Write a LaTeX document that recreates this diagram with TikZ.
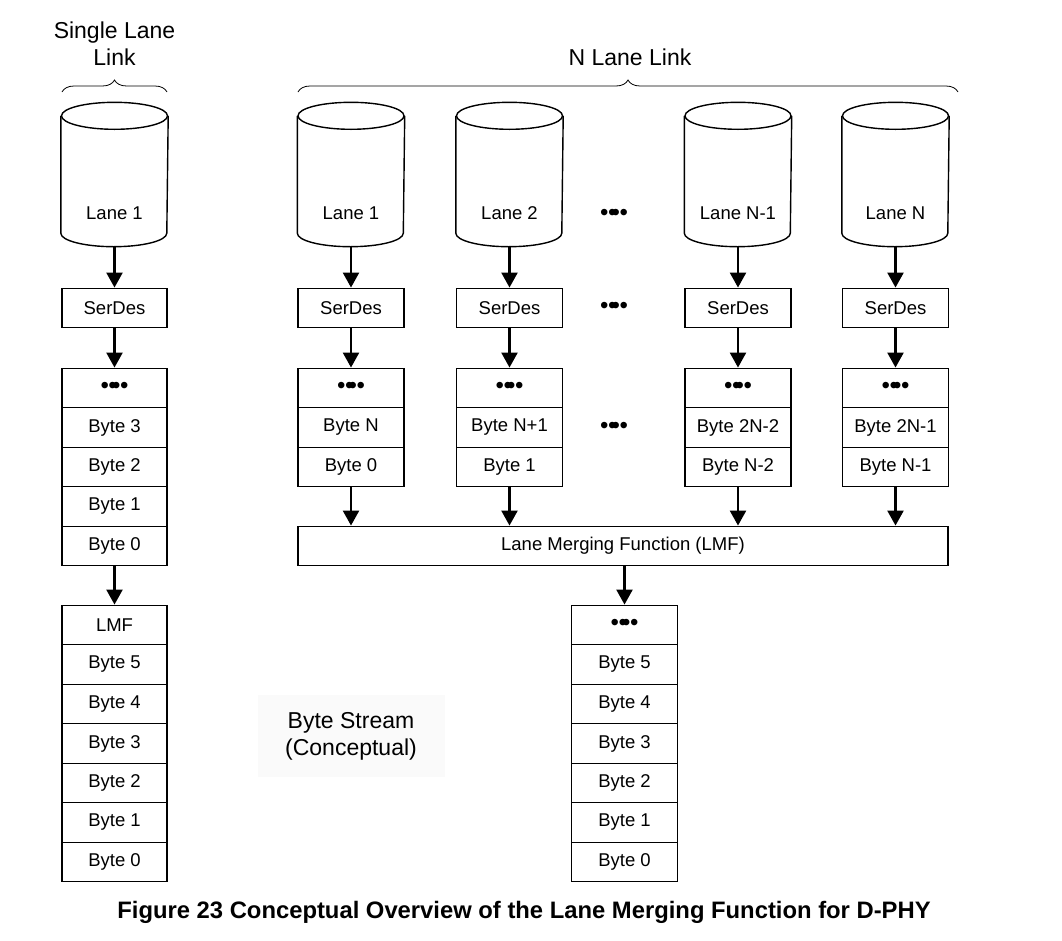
\documentclass[tikz,border=0pt]{standalone}
\usepackage{fontspec}
\setmainfont{Liberation Sans}
\usetikzlibrary{arrows.meta,decorations.pathreplacing}
\newcommand{\dotrow}{{\fontsize{24}{24}\selectfont •\kern-.02em•\kern-.2em•\kern-.02em•}}

\begin{document}
\begin{tikzpicture}[x=1pt,y=-1pt,>={Triangle[length=15pt,width=16pt]},line width=1.4pt,font=\fontsize{18.5}{20}\selectfont]
\tikzstyle{cyl}=[rectangle,minimum width=106,minimum height=143,inner sep=0]
\tikzstyle{box}=[rectangle,draw,minimum width=106,minimum height=39.5,inner sep=0]
\tikzstyle{conn}=[->,line width=2.4pt]
\tikzstyle{head}=[font=\fontsize{23}{27}\selectfont,align=center]
\tikzstyle{lbl}=[yshift=-40.5pt,text height=13pt,text depth=4pt]
\tikzstyle{brc}=[decorate,decoration={brace,amplitude=12pt},line width=.8pt]
\useasboundingbox (0,0) rectangle (1062,940);
% headings
\node(single)at(114.5,44)[head]{Single Lane\\Link};
\node(nlane)at(630,57)[head]{N Lane Link};
\draw[brc](62,92)--(167,92);
\draw[brc](298,92)--(958,92);
% single lane link
\node(cylS)at(114.5,174.5)[cyl,label={[lbl]center:Lane 1}]{};
\node(serS)at(114.5,308)[box,minimum width=105]{SerDes};
\node(sDots)at(114.5,388)[box,minimum width=105]{\dotrow};
\node(sB3)at(114.5,427.5)[box,minimum width=105]{Byte 3};
\node(sB2)at(114.5,467)[box,minimum width=105]{Byte 2};
\node(sB1)at(114.5,506.5)[box,minimum width=105]{Byte 1};
\node(sB0)at(114.5,546)[box,minimum width=105]{Byte 0};
\node(mLMF)at(114.5,625)[box,minimum width=105]{LMF};
\node(mB5)at(114.5,664.5)[box,minimum width=105]{Byte 5};
\node(mB4)at(114.5,704)[box,minimum width=105]{Byte 4};
\node(mB3)at(114.5,743.5)[box,minimum width=105]{Byte 3};
\node(mB2)at(114.5,783)[box,minimum width=105]{Byte 2};
\node(mB1)at(114.5,822.5)[box,minimum width=105]{Byte 1};
\node(mB0)at(114.5,862)[box,minimum width=105]{Byte 0};
\draw[conn](cylS)--(serS);
\draw[conn](serS)--(sDots);
\draw[conn](sB0)--(mLMF);
% n lane link
\node(cylA)at(351,174.5)[cyl,label={[lbl]center:Lane 1}]{};
\node(cylB)at(509.5,174.5)[cyl,label={[lbl]center:Lane 2}]{};
\node(cylC)at(738,174.5)[cyl,label={[lbl]center:Lane N-1}]{};
\node(cylD)at(895.5,174.5)[cyl,label={[lbl]center:Lane N}]{};
\foreach \c in {cylS,cylA,cylB,cylC,cylD}{
  \draw([yshift=-13.5pt]\c.north west)--([yshift=13.5pt]\c.south west)
    arc[start angle=180,end angle=360,x radius=53pt,y radius=13.5pt]
    --([yshift=-13.5pt]\c.north east);
  \draw([yshift=-13.5pt]\c.north) ellipse[x radius=53pt,y radius=13.5pt];
}
\node(serA)at(351,308)[box]{SerDes};
\node(serB)at(509.5,308)[box]{SerDes};
\node(serC)at(738,308)[box]{SerDes};
\node(serD)at(895.5,308)[box]{SerDes};
\node(aDots)at(351,388)[box]{\dotrow};
\node(bDots)at(509.5,388)[box]{\dotrow};
\node(cDots)at(738,388)[box]{\dotrow};
\node(dDots)at(895.5,388)[box]{\dotrow};
\node(aHi)at(351,427.5)[box]{Byte N};
\node(bHi)at(509.5,427.5)[box]{Byte N+1};
\node(cHi)at(738,427.5)[box]{Byte 2N-2};
\node(dHi)at(895.5,427.5)[box]{Byte 2N-1};
\node(aLo)at(351,467)[box]{Byte 0};
\node(bLo)at(509.5,467)[box]{Byte 1};
\node(cLo)at(738,467)[box]{Byte N-2};
\node(dLo)at(895.5,467)[box]{Byte N-1};
\node(gap1)at(614,215)[]{\dotrow};
\node(gap2)at(614,308)[]{\dotrow};
\node(gap3)at(614,427.5)[]{\dotrow};
\node(lmf)at(623,546)[box,minimum width=650]{Lane Merging Function (LMF)};
\draw[conn](cylA)--(serA);
\draw[conn](cylB)--(serB);
\draw[conn](cylC)--(serC);
\draw[conn](cylD)--(serD);
\draw[conn](serA)--(aDots);
\draw[conn](serB)--(bDots);
\draw[conn](serC)--(cDots);
\draw[conn](serD)--(dDots);
\draw[conn](aLo)--(aLo|-lmf.north);
\draw[conn](bLo)--(bLo|-lmf.north);
\draw[conn](cLo)--(cLo|-lmf.north);
\draw[conn](dLo)--(dLo|-lmf.north);
% byte stream
\node(oDots)at(624.5,625)[box]{\dotrow};
\node(oB5)at(624.5,664.5)[box]{Byte 5};
\node(oB4)at(624.5,704)[box]{Byte 4};
\node(oB3)at(624.5,743.5)[box]{Byte 3};
\node(oB2)at(624.5,783)[box]{Byte 2};
\node(oB1)at(624.5,822.5)[box]{Byte 1};
\node(oB0)at(624.5,862)[box]{Byte 0};
\draw[conn](oDots|-lmf.south)--(oDots);
\node(stream)at(351,736)[head,fill=black!2,minimum width=187,minimum height=82]{Byte Stream\\(Conceptual)};
\node(caption)at(524,912)[font=\fontsize{23.8}{25}\selectfont\bfseries]{Figure 23 Conceptual Overview of the Lane Merging Function for D-PHY};
\end{tikzpicture}
\end{document}
